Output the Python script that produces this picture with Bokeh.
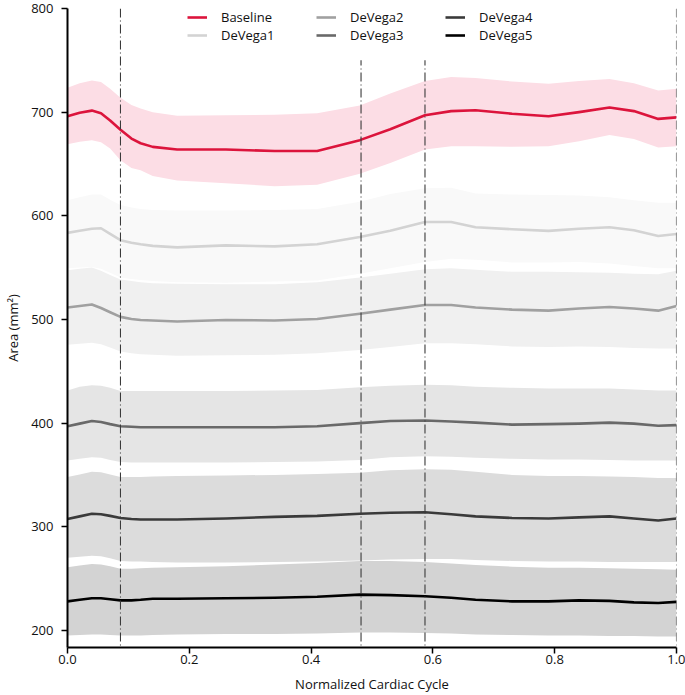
from bokeh.plotting import figure
from bokeh.models import (Range1d, FixedTicker, PrintfTickFormatter, Span, Legend,
                          LegendItem, ColumnDataSource, BoxAnnotation)
from bokeh.embed import file_html
from bokeh.resources import INLINE

# ---------------- data ----------------
x = [0.0, 0.02, 0.04, 0.055, 0.07, 0.087, 0.105, 0.12, 0.14, 0.18, 0.26, 0.34, 0.41,
     0.48, 0.53, 0.587, 0.63, 0.67, 0.73, 0.79, 0.84, 0.89, 0.93, 0.97, 1.0]

series_names = ["Baseline", "DeVega1", "DeVega2", "DeVega3", "DeVega4", "DeVega5"]

baseline_mean = [696, 699.5, 701.5, 699, 692, 683, 674.5, 670, 666.5, 664, 664, 662.5, 662.5,
                 673, 683.5, 697, 701, 701.8, 698.5, 696, 700, 704.5, 701, 693.5, 695]
baseline_upper = [723.5, 728, 730.5, 729, 722.5, 714, 707, 703.5, 700, 696.5, 697, 697.5, 699,
                  706.5, 718, 730, 734, 733, 729.5, 727.5, 730, 732, 728, 721, 722.5]
baseline_lower = [669, 671.5, 673, 671, 665, 653.5, 646, 644, 638.5, 634, 631.5, 628.5, 630,
                  640.5, 651, 664, 667, 667, 666.5, 667, 672, 678, 674, 666, 667]

devega1_mean = [583.5, 585.5, 587.5, 588, 582.5, 576.5, 574, 572.5, 571, 569.5, 571.5, 570.5, 572.5,
                579.5, 585.5, 594, 594, 589, 587, 585.5, 587.5, 589, 586, 580.5, 582.5]
devega1_upper = [615, 618, 620.5, 620.5, 615.5, 610.5, 608, 606.5, 605.5, 605, 605, 605.5, 606.5,
                 613.5, 621, 626.5, 627, 621.5, 620.5, 620, 619.5, 618, 615, 612.5, 612.5]
devega1_lower = [549.5, 550, 550.5, 549, 545, 540.5, 539, 538, 537, 536, 535.5, 536.5, 537.5,
                 544, 549.5, 555.5, 558.5, 557.5, 555, 555, 555.5, 554, 551.5, 549.5, 549.5]

devega2_mean = [511.5, 513, 514.5, 511, 507, 502.5, 500.5, 499.5, 499, 498, 499.5, 499, 500.5,
                505.5, 509.5, 514, 514, 511.5, 509.5, 508.5, 510.5, 512, 510.5, 508.5, 513]
devega2_upper = [547.5, 549, 550, 547, 543, 538.5, 537, 536, 535, 534.5, 534, 534, 536,
                 540.5, 544, 548.5, 549.5, 548, 546, 546, 545.5, 545, 544, 543.5, 547]
devega2_lower = [475.5, 476.5, 477.5, 476, 473, 469, 467.5, 466.5, 466, 465, 465.5, 466, 467.5,
                 470.5, 473.5, 477, 477, 476, 474, 473.5, 474, 473.5, 472.5, 472, 472]

devega3_mean = [397, 399.5, 402, 401, 399, 397, 396.5, 396, 396, 396, 396, 396, 397,
                400, 402, 402.5, 401.5, 400.5, 398.5, 399, 399.5, 400.5, 399.5, 397.5, 398]
devega3_upper = [431.5, 435, 436.5, 436, 434, 431, 431, 431, 431, 431, 431, 431.5, 432,
                 434.5, 436, 437, 436.5, 435, 434, 433.5, 433.5, 433.5, 432.5, 431.5, 431.5]
devega3_lower = [364, 365.5, 367, 366.5, 364.5, 362.5, 362, 362, 362, 362, 362, 362.5, 363,
                 364.5, 367, 368, 367.5, 366.5, 365.5, 365, 365, 364.5, 364, 364, 364]

devega4_mean = [307.5, 310, 312.5, 312, 310.5, 308.5, 307.5, 307, 307, 307, 308, 309.5, 310.5,
                312.5, 313.5, 314, 312, 310, 308.5, 308, 309, 310, 308, 306, 308]
devega4_upper = [348, 350.5, 353, 352.5, 350.5, 348, 348, 348, 348.5, 349, 349.5, 350, 351,
                 352, 354.5, 355.5, 355, 353, 350, 349, 349, 348.5, 348, 347, 347]
devega4_lower = [270, 271, 272, 271.5, 269.5, 267, 266.5, 266.5, 266, 265.5, 265.5, 266, 266.5,
                 267.5, 268.5, 269, 269, 268, 267, 266.5, 266.5, 266, 266, 266, 266]

devega5_mean = [228, 229.5, 231, 231, 230, 229, 229, 229.5, 230.5, 230.5, 231, 231.5, 232.5,
                234.5, 234, 233, 231.5, 229.5, 228, 228, 229, 228.5, 227, 226.5, 227.5]
devega5_upper = [261, 262.5, 264, 263.5, 262, 259.5, 259.5, 260, 260.5, 261, 262, 263.5, 265,
                 267, 267, 266, 264.5, 263, 261.5, 260.5, 260.5, 260, 259.5, 259, 258.5]
devega5_lower = [195, 195.5, 196, 196, 195.5, 195, 195, 195, 195.5, 196, 196.5, 196.5, 197,
                 198, 198, 197.5, 197, 196, 195.5, 195, 195, 194.5, 194.5, 194, 194]

phase_lines = [0.087, 0.482, 0.587, 1.0]

x_ticks = [0.0, 0.2, 0.4, 0.6, 0.8, 1.0]
y_ticks = [200, 300, 400, 500, 600, 700, 800]

means = [baseline_mean, devega1_mean, devega2_mean, devega3_mean, devega4_mean, devega5_mean]
uppers = [baseline_upper, devega1_upper, devega2_upper, devega3_upper, devega4_upper, devega5_upper]
lowers = [baseline_lower, devega1_lower, devega2_lower, devega3_lower, devega4_lower, devega5_lower]

line_colors = ["#dc143c", "#d3d3d3", "#a0a0a0", "#696969", "#3a3a3a", "#000000"]
band_colors = ["#fcdde5", "#f9f9f9", "#f0f0f0", "#e5e5e5", "#dcdcdc", "#d3d3d3"]

FONT = "Open Sans"

p = figure(width=685, height=695, output_backend="svg", toolbar_location=None,
           x_range=Range1d(0, 1), y_range=Range1d(183.5, 800),
           min_border_left=67, min_border_right=9, min_border_top=8, min_border_bottom=47)
p.outline_line_color = None
p.xgrid.visible = False
p.ygrid.visible = False
p.background_fill_color = "white"

line_renderers = []
for name, m, up, lo, lc, bc in zip(series_names, means, uppers, lowers, line_colors, band_colors):
    src = ColumnDataSource(dict(x=x, mean=m, upper=up, lower=lo))
    p.varea(x="x", y1="lower", y2="upper", source=src, fill_color=bc, fill_alpha=1.0)
    r = p.line(x="x", y="mean", source=src, line_color=lc, line_width=2.6,
               line_join="round")
    line_renderers.append(r)

for loc in phase_lines:
    p.add_layout(Span(location=loc, dimension="height", line_color="#3a3a3a",
                      line_width=1.1, line_dash="9 3 1 3"))

# white backdrop behind the legend (legend frame area, screen-like layout constant)
p.add_layout(BoxAnnotation(left=0.172, right=0.82, top=800, bottom=750,
                           fill_color="white", fill_alpha=1.0, line_color=None))

# axes
for ax in (p.xaxis[0], p.yaxis[0]):
    ax.axis_line_color = "black"
    ax.axis_line_width = 2
    ax.major_tick_line_color = "black"
    ax.major_tick_line_width = 1.5
    ax.major_tick_out = 6
    ax.major_tick_in = 0
    ax.minor_tick_line_color = None
    ax.major_label_text_font = FONT
    ax.major_label_text_font_size = "13px"
    ax.major_label_text_color = "#111111"
    ax.axis_label_text_font = FONT
    ax.axis_label_text_font_size = "13px"
    ax.axis_label_text_font_style = "normal"
    ax.axis_label_text_color = "#111111"

p.xaxis.ticker = FixedTicker(ticks=x_ticks)
p.xaxis.formatter = PrintfTickFormatter(format="%.1f")
p.xaxis.axis_label = "Normalized Cardiac Cycle"
p.xaxis.major_label_standoff = 1
p.xaxis.axis_label_standoff = 8

p.yaxis.ticker = FixedTicker(ticks=y_ticks)
p.yaxis.axis_label = "Area (mm²)"
p.yaxis.major_label_standoff = 8
p.yaxis.axis_label_standoff = 6

items = [LegendItem(label=n, renderers=[r]) for n, r in zip(series_names, line_renderers)]
legend = Legend(items=items, orientation="vertical", nrows=2, ncols=3,
                location=(120, 603),
                glyph_width=20, glyph_height=18, label_height=18, label_width=95,
                label_standoff=14, spacing=0, padding=16, margin=0,
                label_text_font=FONT, label_text_font_size="13px",
                label_text_color="#111111",
                border_line_color=None, background_fill_color="white",
                background_fill_alpha=1.0)
p.add_layout(legend, "center")

open("out.html", "w").write(file_html(p, INLINE))
